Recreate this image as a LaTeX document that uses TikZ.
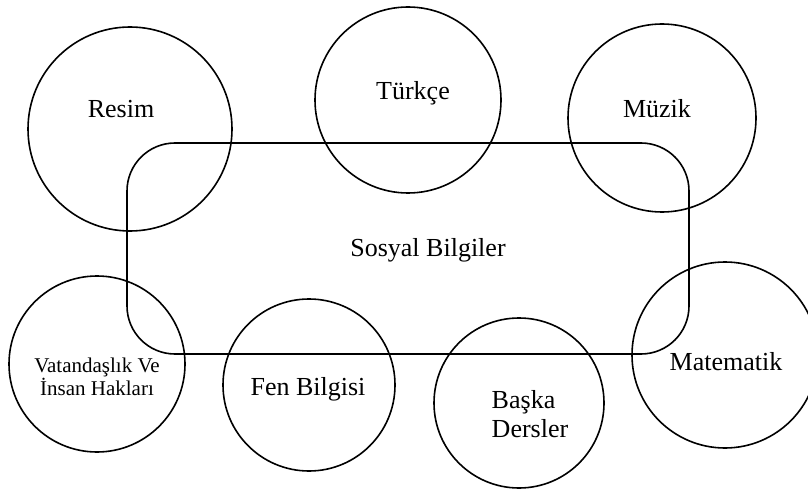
\documentclass[tikz,border=0pt]{standalone}
\usepackage{fontspec}
\setmainfont{Liberation Serif}
\begin{document}
\begin{tikzpicture}[x=1pt,y=-1pt,line width=1.6pt,
    lbl/.style={anchor=base,inner sep=0pt,font=\fontsize{26}{29}\selectfont},
    small/.style={anchor=base,inner sep=0pt,align=center,font=\fontsize{21}{23}\selectfont}]
    \useasboundingbox (0,0) rectangle (808,489);
    % main box
    \draw[rounded corners=48pt] (127,143) rectangle (689,354);
    \node[lbl] (sosyal) at (428,256) {Sosyal Bilgiler};
    % surrounding circles
    \draw (130,129) circle (102pt);
    \node[lbl] (resim) at (121,118) {Resim};
    \draw (408,100) circle (93pt);
    \node[lbl] (turkce) at (413,100) {Türkçe};
    \draw (662,118) circle (94pt);
    \node[lbl] (muzik) at (657,118) {Müzik};
    \draw (97,364) circle (88pt);
    \node[small] (vatandas) at (97,395) {Vatandaşlık Ve\\İnsan Hakları};
    \draw (309,385) circle (86pt);
    \node[lbl] (fen) at (308,395) {Fen Bilgisi};
    \draw (519,403) circle (85pt);
    \node[lbl,align=left] (baska) at (530,437) {Başka\\Dersler};
    \draw (725,355) circle (93pt);
    \node[lbl] (matematik) at (726,370) {Matematik};
\end{tikzpicture}
\end{document}
